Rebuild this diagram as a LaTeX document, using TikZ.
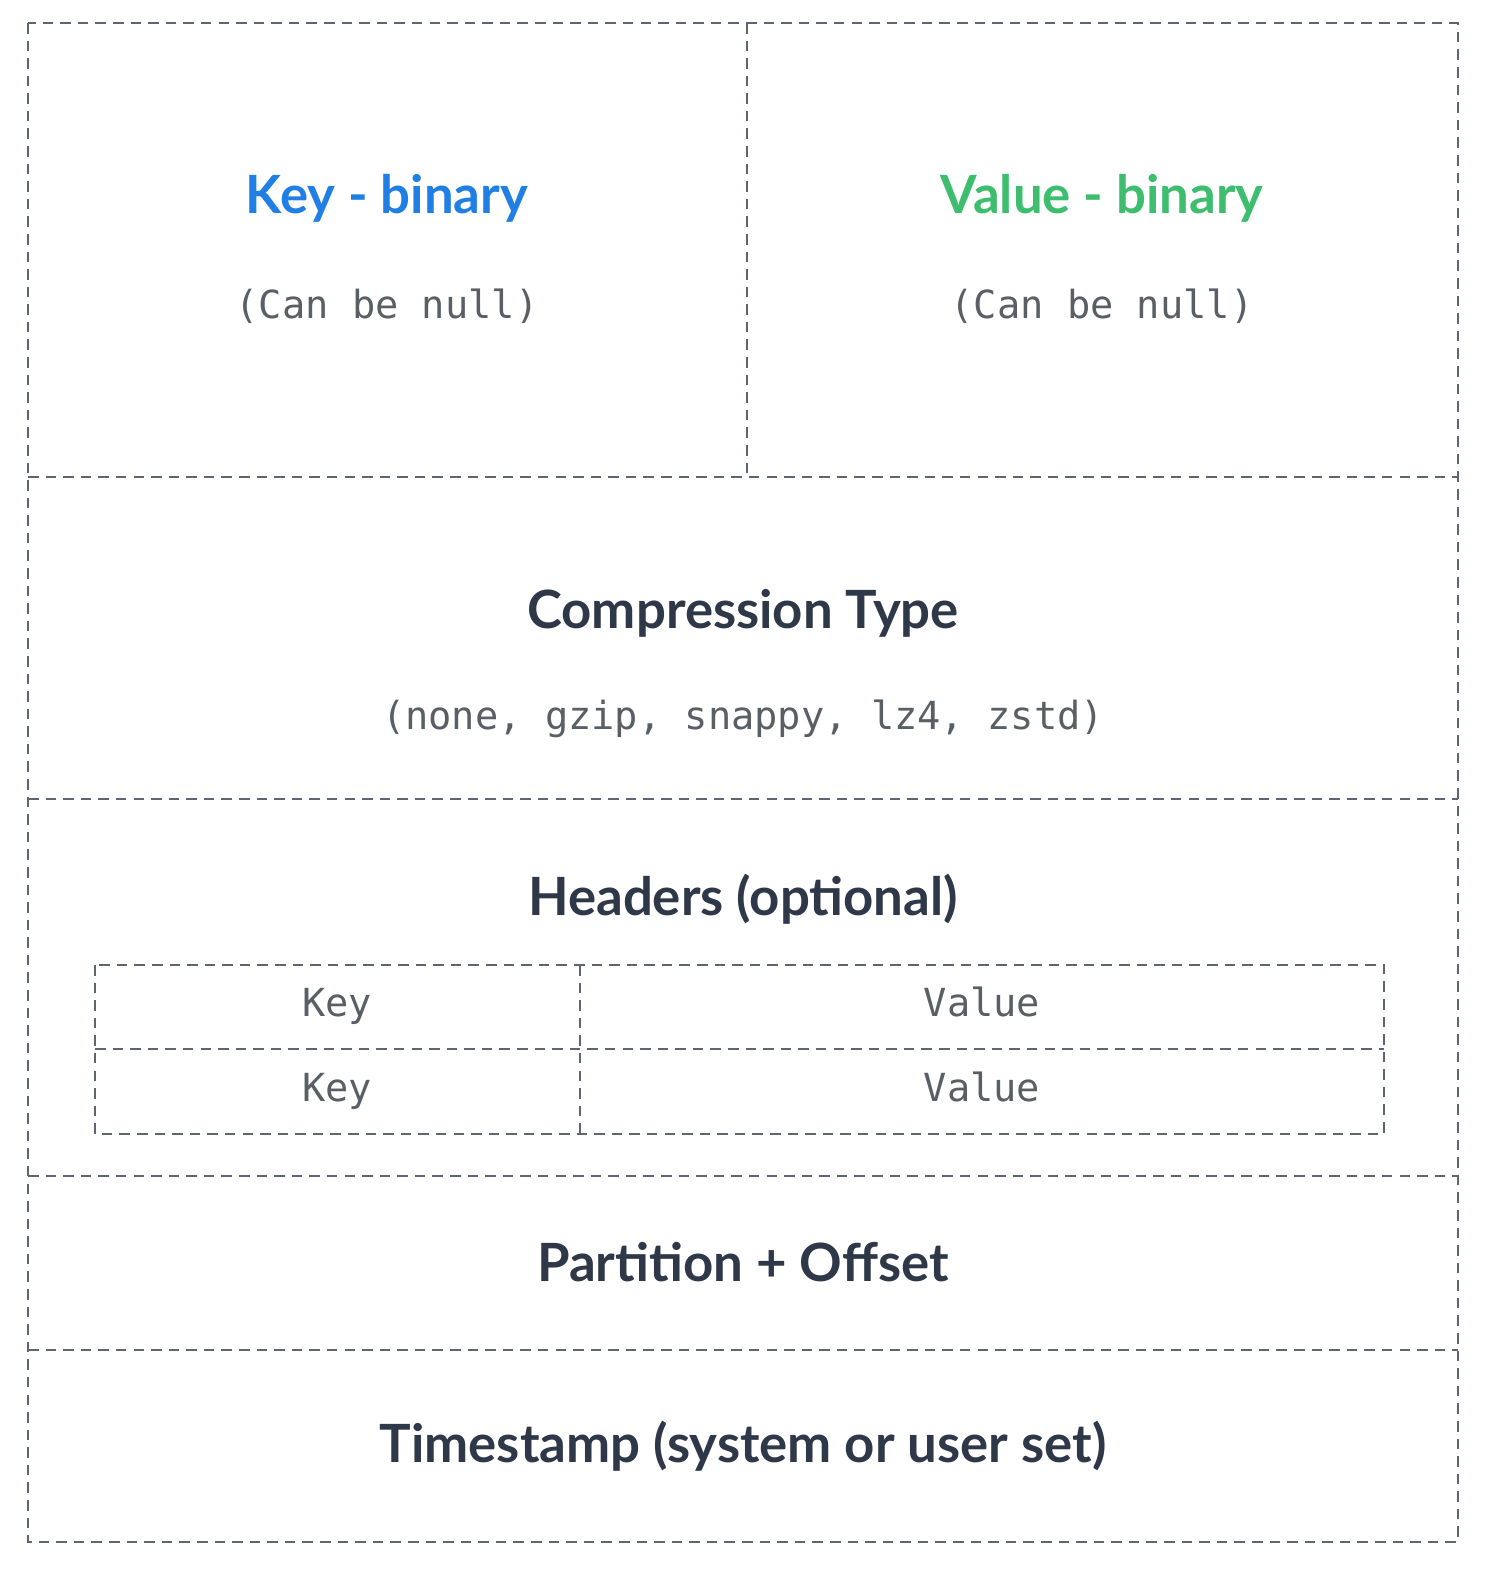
\documentclass[tikz,border=0pt]{standalone}
\usepackage{fontspec}
\setmainfont{Lato}
\setmonofont{DejaVu Sans Mono}
\usetikzlibrary{positioning}
\definecolor{keyblue}{HTML}{1F7FE5}
\definecolor{valgreen}{HTML}{3CBE6E}
\definecolor{darktext}{HTML}{2F3848}
\definecolor{monogray}{HTML}{5A5F66}
\definecolor{linegray}{HTML}{5E6570}
\tikzset{
  cell/.style={draw=linegray,dash pattern=on 3pt off 2pt,line width=0.8pt},
  title/.style={font=\fontsize{15}{18}\selectfont\bfseries,text=darktext},
  note/.style={font=\fontsize{11}{13}\selectfont\ttfamily,text=monogray,text height=1.6ex,text depth=.3ex}
}
\begin{document}
\begin{tikzpicture}[x=0.01cm,y=-0.01cm]
\useasboundingbox (0,0) rectangle (1488,1570);
% outer frame and rows
\draw[cell] (28,23) rectangle (1458,1542);
\draw[cell] (747,23) -- (747,477);
\draw[cell] (28,477) -- (1458,477);
\draw[cell] (28,799) -- (1458,799);
\draw[cell] (28,1176) -- (1458,1176);
\draw[cell] (28,1350) -- (1458,1350);
% headers table
\draw[cell] (95,965) rectangle (1384,1134);
\draw[cell] (95,1049) -- (1384,1049);
\draw[cell] (580,965) -- (580,1134);
\node[title,text=keyblue] (key) at (387,198) {Key - binary};
\node[note] (keynull) at (387,307) {(Can be null)};
\node[title,text=valgreen] (value) at (1102,198) {Value - binary};
\node[note] (valuenull) at (1102,307) {(Can be null)};
\node[title] (comp) at (743,613) {Compression Type};
\node[note] (codecs) at (743,718) {(none, gzip, snappy, lz4, zstd)};
\node[title] (headers) at (743,899) {Headers (optional)};
\node[note] (hkey1) at (337,1005) {Key};
\node[note] (hval1) at (982,1005) {Value};
\node[note] (hkey2) at (337,1090) {Key};
\node[note] (hval2) at (982,1090) {Value};
\node[title] (part) at (743,1262) {Partition + Offset};
\node[title] (time) at (743,1446) {Timestamp (system or user set)};
\end{tikzpicture}
\end{document}
